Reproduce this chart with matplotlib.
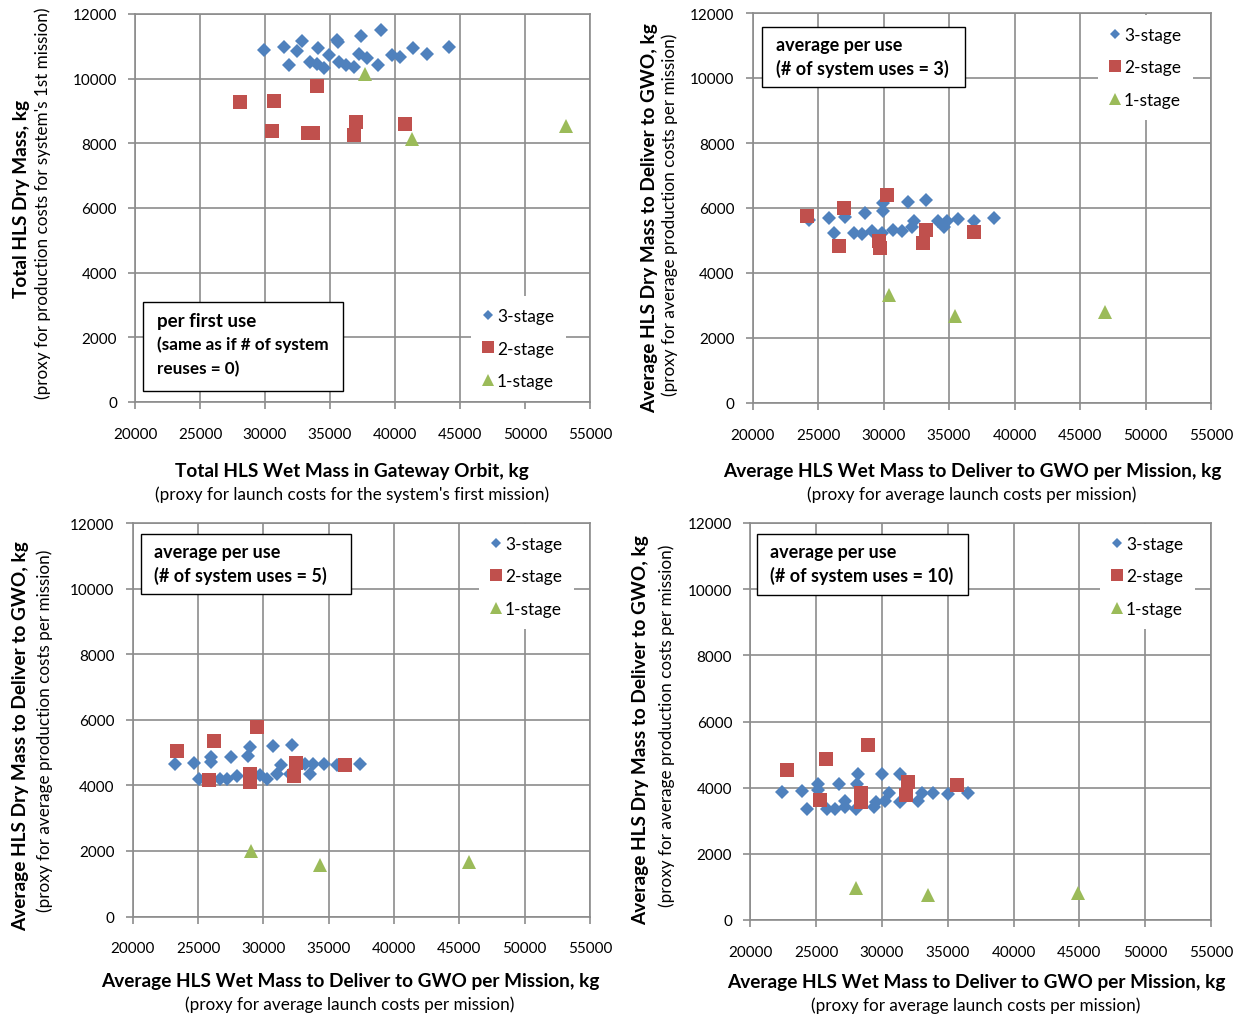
import numpy as np
import matplotlib
matplotlib.use("Agg")
from matplotlib import pyplot as plt
from matplotlib.patches import Rectangle

plt.rcParams['font.family'] = ['Lato', 'DejaVu Sans']

W, H = 1244, 1020

# ---- data ----
# panel 1: per first use
p1_x3 = [29950, 31490, 32870, 32440, 31850, 34100, 33460, 34020, 34540, 34920, 35560, 35600,
         35720, 36230, 36850, 37360, 37230, 37820, 38920, 38720, 39740, 40380, 41410, 42460, 44180]
p1_y3 = [10890, 10970, 11170, 10850, 10430, 10940, 10520, 10450, 10330, 10730, 11200, 11130,
         10520, 10420, 10350, 11310, 10750, 10650, 11510, 10430, 10730, 10660, 10950, 10760, 10990]
p1_x2 = [28080, 30720, 33970, 30560, 33330, 33720, 37000, 36820, 40740]
p1_y2 = [9290, 9310, 9760, 8380, 8320, 8320, 8660, 8260, 8590]
p1_x1 = [37670, 41330, 53130]
p1_y1 = [10130, 8120, 8550]

# panel 2: average per use, 3 uses
p2_x3 = [24340, 25840, 27060, 26220, 28590, 27750, 28340, 29150, 29940, 29990, 29910, 30750,
         31390, 31850, 32200, 32350, 33250, 34180, 34620, 34870, 35710, 36910, 38460]
p2_y3 = [5640, 5690, 5730, 5220, 5850, 5220, 5200, 5300, 5900, 6150, 5240, 5330,
         5300, 6180, 5410, 5610, 6240, 5610, 5410, 5610, 5660, 5610, 5680]
p2_x2 = [24140, 26980, 30240, 26630, 29660, 29730, 33220, 33040, 36930]
p2_y2 = [5760, 5990, 6410, 4840, 5000, 4770, 5320, 4920, 5250]
p2_x1 = [30440, 35460, 46910]
p2_y1 = [3320, 2670, 2810]

# panel 3: average per use, 5 uses
p3_x3 = [23240, 24720, 25100, 25970, 25970, 26690, 27240, 27530, 28010, 28980, 28850, 28980, 29750,
         30310, 30770, 31070, 31330, 32170, 32040, 33190, 33580, 33830, 34650, 35620, 37400]
p3_y3 = [4660, 4680, 4180, 4860, 4710, 4180, 4180, 4860, 4280, 5170, 4890, 4250, 4320,
         4200, 5190, 4350, 4610, 5220, 4360, 4660, 4350, 4640, 4640, 4610, 4660]
p3_x2 = [23370, 26250, 29490, 25870, 28980, 28980, 32480, 32350, 36260]
p3_y2 = [5060, 5350, 5780, 4170, 4350, 4100, 4680, 4280, 4610]
p3_x1 = [29030, 34360, 45770]
p3_y1 = [1990, 1580, 1670]

# panel 4: average per use, 10 uses
p4_x3 = [22390, 23910, 24290, 25120, 25120, 25850, 26440, 26760, 27200, 27200, 28030, 28210, 28080,
         29400, 29550, 29980, 30240, 30570, 31380, 31380, 32770, 33020, 33860, 35050, 36570]
p4_y3 = [3870, 3890, 3370, 4120, 3920, 3370, 3370, 4100, 3410, 3590, 3370, 4420, 4120,
         3410, 3580, 4420, 3590, 3850, 4420, 3580, 3590, 3850, 3850, 3820, 3850]
p4_x2 = [22810, 25730, 28970, 25300, 28410, 28410, 31960, 31830, 35730]
p4_y2 = [4540, 4860, 5280, 3640, 3850, 3570, 4170, 3770, 4090]
p4_x1 = [28030, 33530, 44920]
p4_y1 = [970, 770, 810]

series_names = ["3-stage", "2-stage", "1-stage"]
x_ticks = [20000, 25000, 30000, 35000, 40000, 45000, 50000, 55000]
y_ticks = [0, 2000, 4000, 6000, 8000, 10000, 12000]

blue = "#4F81BD"
red = "#C0504D"
green = "#9BBB59"
grid_c = "#8C8C8C"


def fx(px):
    return px / W


def fy(py):
    return 1 - py / H


def make_panel(rect, data, box_rect, box_lines, leg_xy):
    # rect given as left, top, right, bottom in pixels
    l, t, r, b = rect
    ax = fig.add_axes([fx(l), fy(b), (r - l) / W, (b - t) / H])
    (x3, y3), (x2, y2), (x1, y1) = data
    ax.plot(x3, y3, linestyle="none", marker="D", ms=7, mew=0, color=blue, label=series_names[0])
    ax.plot(x2, y2, linestyle="none", marker="s", ms=10, mew=0, color=red, label=series_names[1])
    ax.plot(x1, y1, linestyle="none", marker="^", ms=10, mew=0, color=green, label=series_names[2])
    ax.set_xlim(20000, 55000)
    ax.set_ylim(0, 12000)
    ax.set_xticks(x_ticks)
    ax.set_yticks(y_ticks)
    ax.grid(True, color=grid_c, lw=1.2)
    ax.set_axisbelow(True)
    for s in ax.spines.values():
        s.set_color(grid_c)
        s.set_linewidth(1.2)
        s.set_zorder(6)
    ax.tick_params(axis="both", colors=grid_c, labelcolor="black", labelsize=11, length=5, width=1.2)
    ax.tick_params(axis="x", pad=13)
    ax.tick_params(axis="y", pad=8)

    # label box
    bl, bt, br, bb = box_rect
    ax.add_patch(Rectangle((fx(bl), fy(bb)), (br - bl) / W, (bb - bt) / H, transform=fig.transFigure,
                           fc="white", ec="black", lw=1, zorder=7))
    for txt, tx, ty, size in box_lines:
        ax.text(fx(tx), fy(ty), txt, transform=fig.transFigure, fontsize=size, fontweight="bold",
                ha="left", va="center", zorder=8)

    leg = ax.legend(loc="upper left", bbox_to_anchor=leg_xy, frameon=True, fontsize=12.5,
                    handlelength=0.6, handletextpad=0.2, labelspacing=0.94, markerscale=0.8,
                    borderpad=0.7, borderaxespad=0, fancybox=False)
    leg.get_frame().set_facecolor("white")
    leg.get_frame().set_edgecolor("none")
    leg.get_frame().set_alpha(1)
    return ax


fig = plt.figure(figsize=(W / 100, H / 100), dpi=100)

ax1 = make_panel((135, 15, 590, 403), [(p1_x3, p1_y3), (p1_x2, p1_y2), (p1_x1, p1_y1)],
                 (143, 303, 343, 392),
                 [("per first use", 157, 322, 13.5),
                  ("(same as if # of system", 157, 345, 12.3),
                  ("reuses = 0)", 157, 369, 12.3)],
                 (0.738, 0.273))
ax2 = make_panel((752.5, 14, 1211, 404), [(p2_x3, p2_y3), (p2_x2, p2_y2), (p2_x1, p2_y1)],
                 (762, 28, 965, 88),
                 [("average per use", 776, 46, 13),
                  ("(# of system uses = 3)", 776, 69, 13)],
                 (0.7535, 0.995))
ax3 = make_panel((132.7, 524, 590, 917.5), [(p3_x3, p3_y3), (p3_x2, p3_y2), (p3_x1, p3_y1)],
                 (141, 535, 351, 595),
                 [("average per use", 154, 553, 13),
                  ("(# of system uses = 5)", 154, 576, 13)],
                 (0.757, 0.9975))
ax4 = make_panel((750.3, 524, 1211, 921), [(p4_x3, p4_y3), (p4_x2, p4_y2), (p4_x1, p4_y1)],
                 (757, 535, 968, 596),
                 [("average per use", 770, 553, 13),
                  ("(# of system uses = 10)", 770, 576, 13)],
                 (0.759, 0.9975))

# axis titles
ylab_bold = ["Total HLS Dry Mass, kg", "Average HLS Dry Mass to Deliver to GWO, kg",
             "Average HLS Dry Mass to Deliver to GWO, kg", "Average HLS Dry Mass to Deliver to GWO, kg"]
ylab_sub = ["(proxy for production costs for system's 1st mission)",
            "(proxy for average production costs per mission)",
            "(proxy for average production costs per mission)",
            "(proxy for average production costs per mission)"]
xlab_bold = ["Total HLS Wet Mass in Gateway Orbit, kg",
             "Average HLS Wet Mass to Deliver to GWO per Mission, kg",
             "Average HLS Wet Mass to Deliver to GWO per Mission, kg",
             "Average HLS Wet Mass to Deliver to GWO per Mission, kg"]
xlab_sub = ["(proxy for launch costs for the system's first mission)",
            "(proxy for average launch costs per mission)",
            "(proxy for average launch costs per mission)",
            "(proxy for average launch costs per mission)"]

ylab_pos = [(22, 199, 43, 203), (650, 218, 670, 215), (21, 736, 45, 731), (641, 730, 667, 726)]
xlab_pos = [(352, 471, 352, 495), (972, 472, 972, 495), (350, 982, 350, 1005), (976, 983, 976, 1006)]

for i in range(4):
    bx, by, sx, sy = ylab_pos[i]
    fig.text(fx(bx), fy(by), ylab_bold[i], rotation=90, ha="center", va="center",
             fontsize=13.7, fontweight="bold")
    fig.text(fx(sx), fy(sy), ylab_sub[i], rotation=90, ha="center", va="center", fontsize=12.3)
    bx, by, sx, sy = xlab_pos[i]
    fig.text(fx(bx), fy(by), xlab_bold[i], ha="center", va="center", fontsize=13.7, fontweight="bold")
    fig.text(fx(sx), fy(sy), xlab_sub[i], ha="center", va="center", fontsize=12.3)

fig.savefig("out.png", dpi=100)
